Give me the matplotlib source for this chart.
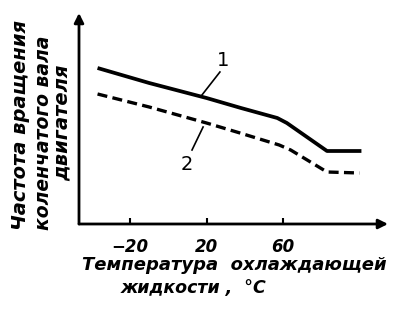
import matplotlib
matplotlib.use("Agg")
import matplotlib.pyplot as plt

# Data (x: coolant temperature, °C; y: engine speed, arbitrary units)
x1 = [-37, -10, 20, 38, 57, 62, 83, 101]
y1 = [156, 141, 126, 116, 106, 101, 73, 73]
x2 = [-37, -10, 20, 37.5, 58, 64, 83, 100]
y2 = [130, 117, 101, 91, 79, 74, 52, 51]
xticks = [-20, 20, 60]
xticklabels = ["\u221220", "20", "60"]
ylabel_lines = ["Частота вращения", "коленчатого вала", "двигателя"]
xlabel_line1 = "Температура  охлаждающей"
xlabel_line2 = "жидкости ,  °C"

W, H = 400, 311
fig = plt.figure(figsize=(W / 100, H / 100), dpi=100)
ax = fig.add_axes([79 / W, 87 / H, (388 - 79) / W, (224 - 13) / H])
ax.set_xlim(-46.7, 114.9)
ax.set_ylim(0, 211)
for s in ax.spines.values():
    s.set_visible(False)

font = dict(family="DejaVu Sans", style="italic", weight="bold")

# axes with arrows
ax.annotate("", xy=(1.0, 0), xytext=(0, 0), xycoords="axes fraction",
            arrowprops=dict(arrowstyle="-|>", lw=2.0, color="black",
                            mutation_scale=14, shrinkA=0, shrinkB=0))
ax.annotate("", xy=(0, 1.0), xytext=(0, 0), xycoords="axes fraction",
            arrowprops=dict(arrowstyle="-|>", lw=2.0, color="black",
                            mutation_scale=14, shrinkA=0, shrinkB=0))

ax.plot(x1, y1, color="black", lw=2.7, solid_capstyle="butt", solid_joinstyle="round")
ax.plot(x2, y2, color="black", lw=2.4, ls=(0, (3.0, 1.6)))

ax.set_xticks(xticks)
ax.set_xticklabels(xticklabels, fontsize=12, **font)
ax.tick_params(axis="x", direction="in", length=4, width=1.5, pad=10)
ax.set_yticks([])

# curve labels with leader lines
ax.plot([27.0, 17.6], [152, 129], color="black", lw=1.2)
ax.text(28.6, 164, "1", fontsize=14, ha="center", va="center", family="DejaVu Sans")
ax.plot([18.2, 12.4], [97, 74], color="black", lw=1.2)
ax.text(9.8, 59, "2", fontsize=14, ha="center", va="center", family="DejaVu Sans")

# y label (three rotated lines)
fig.text(21 / W, 1 - 230 / H, ylabel_lines[0], rotation=90, ha="center", va="bottom",
         fontsize=14, **font)
fig.text(44 / W, 1 - 230 / H, ylabel_lines[1], rotation=90, ha="center", va="bottom",
         fontsize=13.5, **font)
fig.text(62 / W, 1 - 123 / H, ylabel_lines[2], rotation=90, ha="center", va="center",
         fontsize=14, **font)

fig.text(234 / W, 1 - 265.5 / H, xlabel_line1, ha="center", va="center",
         fontsize=13, **font)
fig.text(121 / W, 1 - 288 / H, xlabel_line2, ha="left", va="center",
         fontsize=12.5, **font)

fig.savefig("out.png", dpi=100, facecolor="white")
